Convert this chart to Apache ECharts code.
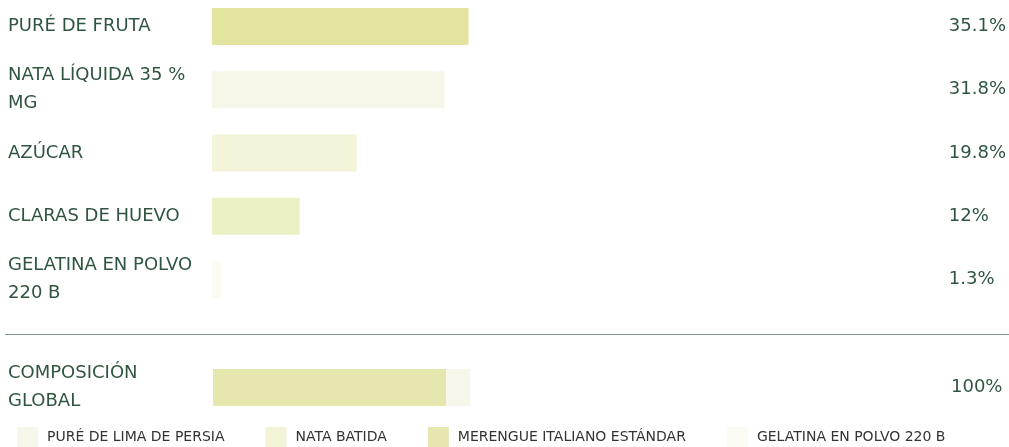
<!DOCTYPE html>
<html>
<head>
<meta charset="utf-8">
<script src="https://cdn.jsdelivr.net/npm/echarts@6/dist/echarts.min.js"></script>
<style>
html,body{margin:0;padding:0;background:#fff;}
#main{width:1009px;height:447px;}
</style>
</head>
<body>
<div id="main"></div>
<script>
// ingredientes (porcentaje sobre el total)
var ingredients = ['PURÉ DE FRUTA', 'NATA LÍQUIDA 35 % MG', 'AZÚCAR', 'CLARAS DE HUEVO', 'GELATINA EN POLVO 220 B'];
var ingredientValues = [35.1, 31.8, 19.8, 12, 1.3];

// composición global por sub-receta
var globalLabel = ['COMPOSICIÓN GLOBAL'];
var subRecipes = ['PURÉ DE LIMA DE PERSIA', 'NATA BATIDA', 'MERENGUE ITALIANO ESTÁNDAR', 'GELATINA EN POLVO 220 B'];
var subRecipeValues = [9.3, 0, 90.7, 0];
var stackOrder = [2, 1, 3, 0];   // orden de apilado en la barra

var ingredientColors = ['#e3e49f', '#f6f7e9', '#f3f4d8', '#ecf0c5', '#fbfbf2'];
var subRecipeColors = ['#f6f7ea', '#f3f3d8', '#e6e7ae', '#fbfbf3'];

var textColor = '#2f553f';
var fontFamily = 'DejaVu Sans';
var axisMax = 100;
var labelWidth = 200;

function pct(v){
	return (Math.round(v * 10) / 10) + '%';
}

// parte la etiqueta en líneas sin dejar espacios al inicio
var measureCtx = document.createElement('canvas').getContext('2d');
function wrap(text){
	measureCtx.font = '18px ' + fontFamily;
	var words = text.split(' ');
	var lines = [], line = '';
	for (var i = 0; i < words.length; i++) {
		var test = line ? line + ' ' + words[i] : words[i];
		if (line && measureCtx.measureText(test).width > labelWidth) {
			lines.push(line);
			line = words[i];
		} else {
			line = test;
		}
	}
	lines.push(line);
	return lines.join('\n');
}

var myChart = echarts.init(document.getElementById('main'), null, {renderer: 'canvas'});

var maxVal = Math.max.apply(null, ingredientValues);
var total = 0;
for (var i = 0; i < subRecipeValues.length; i++) total += subRecipeValues[i];

function leftLabel(margin){
	return {
		color: textColor,
		fontFamily: fontFamily,
		fontSize: 18,
		lineHeight: 28,
		align: 'left',
		margin: margin,
		formatter: wrap
	};
}
var rightLabel = {
	color: textColor,
	fontFamily: fontFamily,
	fontSize: 18,
	align: 'left',
	margin: 6
};

var series = [{
	type: 'bar',
	xAxisIndex: 0,
	yAxisIndex: 0,
	barWidth: 37,
	silent: true,
	data: ingredientValues.map(function(v, i){
		return {value: v, itemStyle: {color: ingredientColors[i]}};
	})
}];
stackOrder.forEach(function(k){
	series.push({
		type: 'bar',
		name: subRecipes[k],
		xAxisIndex: 1,
		yAxisIndex: 2,
		stack: 'global',
		barWidth: 37,
		silent: true,
		itemStyle: {color: subRecipeColors[k]},
		data: [subRecipeValues[k]]
	});
});

var option = {
	animation: false,
	backgroundColor: '#fff',
	textStyle: {fontFamily: fontFamily},
	grid: [
		{left: 212, right: 65, top: 26.5, height: 253},
		{left: 213, right: 64, top: 369, height: 37}
	],
	xAxis: [
		{gridIndex: 0, type: 'value', min: 0, max: axisMax, show: false},
		{gridIndex: 1, type: 'value', min: 0, max: axisMax * total / maxVal, show: false}
	],
	yAxis: [
		{gridIndex: 0, type: 'category', inverse: true, boundaryGap: false, data: ingredients,
			axisLine: {show: false}, axisTick: {show: false}, splitLine: {show: false}, axisLabel: leftLabel(204)},
		{gridIndex: 0, type: 'category', inverse: true, boundaryGap: false, position: 'right',
			data: ingredientValues.map(pct),
			axisLine: {show: false}, axisTick: {show: false}, splitLine: {show: false}, axisLabel: rightLabel},
		{gridIndex: 1, type: 'category', data: globalLabel,
			axisLine: {show: false}, axisTick: {show: false}, axisLabel: leftLabel(205)},
		{gridIndex: 1, type: 'category', position: 'right', data: [pct(total)],
			axisLine: {show: false}, axisTick: {show: false}, axisLabel: rightLabel}
	],
	legend: {
		data: subRecipes,
		left: 17,
		top: 427,
		padding: 0,
		itemWidth: 21,
		itemHeight: 20,
		itemGap: 41,
		icon: 'rect',
		selectedMode: false,
		textStyle: {color: '#333', fontFamily: fontFamily, fontSize: 14, padding: [0, 0, 0, 4]}
	},
	graphic: [{
		type: 'line',
		silent: true,
		shape: {x1: 5, y1: 334.5, x2: 1009, y2: 334.5},
		style: {stroke: '#7d958b', lineWidth: 1}
	}],
	series: series
};
myChart.setOption(option);
</script>
</body>
</html>
